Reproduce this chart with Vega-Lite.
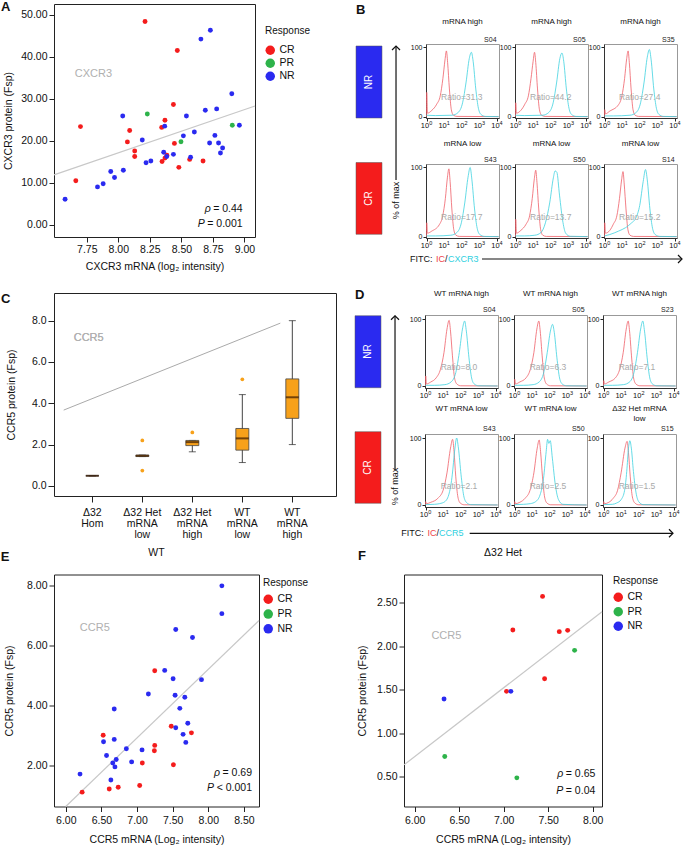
{
"$schema":"https://vega.github.io/schema/vega-lite/v6.json",
"background":"white",
"padding":0,
"config":{"font":"Liberation Sans","view":{"stroke":"#222","strokeWidth":1},
"axis":{"grid":false,"domain":false,"tickColor":"#222","labelColor":"#111","titleColor":"#111","labelFontSize":10.5,"titleFontSize":10.5,"titleFontWeight":"normal","tickSize":5,"labelPadding":2,"labelFlush":false,"labelOverlap":false},
"title":{"fontWeight":"normal","color":"#111","baseline":"top"},
"legend":{"orient":"none","padding":0,"symbolType":"circle","symbolSize":90,"symbolStrokeWidth":0,"symbolOpacity":1,"labelFontSize":10.5,"titleFontSize":10,"titleFontWeight":"normal","labelOffset":4,"labelColor":"#111","titleColor":"#111"}},
"datasets":{
"cx":[{"m":8.212,"v":48.4,"r":"CR"},{"m":8.468,"v":41.5,"r":"CR"},{"m":8.437,"v":28.65,"r":"CR"},{"m":7.70,"v":23.4,"r":"CR"},{"m":7.663,"v":10.5,"r":"CR"},{"m":8.09,"v":22.46,"r":"CR"},{"m":8.072,"v":19.76,"r":"CR"},{"m":8.13,"v":17.6,"r":"CR"},{"m":8.13,"v":16.3,"r":"CR"},{"m":8.37,"v":24.9,"r":"CR"},{"m":8.344,"v":23.2,"r":"CR"},{"m":8.445,"v":19.4,"r":"CR"},{"m":8.347,"v":15.1,"r":"CR"},{"m":8.37,"v":15.9,"r":"CR"},{"m":8.385,"v":16.6,"r":"CR"},{"m":8.48,"v":13.7,"r":"CR"},{"m":8.566,"v":15.6,"r":"CR"},{"m":8.672,"v":15.2,"r":"CR"},
{"m":8.23,"v":26.4,"r":"PR"},{"m":8.497,"v":19.8,"r":"PR"},{"m":8.904,"v":23.7,"r":"PR"},
{"m":8.655,"v":44.2,"r":"NR"},{"m":8.73,"v":46.3,"r":"NR"},{"m":8.90,"v":31.2,"r":"NR"},{"m":8.035,"v":25.9,"r":"NR"},{"m":8.54,"v":25.9,"r":"NR"},{"m":8.69,"v":27.3,"r":"NR"},{"m":8.78,"v":27.6,"r":"NR"},{"m":8.96,"v":23.7,"r":"NR"},{"m":8.368,"v":23.5,"r":"NR"},{"m":8.19,"v":20.2,"r":"NR"},{"m":8.516,"v":21.2,"r":"NR"},{"m":8.603,"v":22.1,"r":"NR"},{"m":8.766,"v":21.3,"r":"NR"},{"m":8.724,"v":19.5,"r":"NR"},{"m":8.795,"v":19.5,"r":"NR"},{"m":8.827,"v":18.3,"r":"NR"},{"m":8.81,"v":17.1,"r":"NR"},{"m":8.36,"v":17.3,"r":"NR"},{"m":8.437,"v":16.8,"r":"NR"},{"m":8.384,"v":16.3,"r":"NR"},{"m":8.573,"v":16.1,"r":"NR"},{"m":8.22,"v":14.8,"r":"NR"},{"m":8.258,"v":15.2,"r":"NR"},{"m":8.04,"v":13.0,"r":"NR"},{"m":7.94,"v":12.7,"r":"NR"},{"m":7.97,"v":11.3,"r":"NR"},{"m":7.88,"v":9.8,"r":"NR"},{"m":7.835,"v":9.05,"r":"NR"},{"m":7.578,"v":6.1,"r":"NR"}],
"wt":[{"m":6.23,"v":1.095,"r":"CR"},{"m":6.61,"v":1.2,"r":"CR"},{"m":6.736,"v":1.26,"r":"CR"},{"m":7.037,"v":1.32,"r":"CR"},{"m":6.525,"v":3.0,"r":"CR"},{"m":7.074,"v":2.07,"r":"CR"},{"m":7.248,"v":2.66,"r":"CR"},{"m":7.243,"v":2.48,"r":"CR"},{"m":7.248,"v":5.16,"r":"CR"},{"m":7.48,"v":3.3,"r":"CR"},{"m":7.51,"v":2.01,"r":"CR"},{"m":7.763,"v":3.08,"r":"CR"},
{"m":8.19,"v":8.0,"r":"NR"},{"m":8.19,"v":7.07,"r":"NR"},{"m":7.543,"v":6.54,"r":"NR"},{"m":7.778,"v":6.27,"r":"NR"},{"m":7.904,"v":4.86,"r":"NR"},{"m":7.388,"v":5.17,"r":"NR"},{"m":7.506,"v":4.89,"r":"NR"},{"m":7.159,"v":4.38,"r":"NR"},{"m":7.534,"v":4.34,"r":"NR"},{"m":7.67,"v":4.27,"r":"NR"},{"m":7.6,"v":3.9,"r":"NR"},{"m":6.68,"v":3.88,"r":"NR"},{"m":7.712,"v":3.4,"r":"NR"},{"m":7.543,"v":3.25,"r":"NR"},{"m":7.646,"v":3.03,"r":"NR"},{"m":7.684,"v":2.76,"r":"NR"},{"m":6.53,"v":2.78,"r":"NR"},{"m":6.68,"v":2.86,"r":"NR"},{"m":6.85,"v":2.55,"r":"NR"},{"m":7.07,"v":2.51,"r":"NR"},{"m":6.572,"v":2.32,"r":"NR"},{"m":6.708,"v":2.19,"r":"NR"},{"m":6.66,"v":2.07,"r":"NR"},{"m":6.69,"v":1.94,"r":"NR"},{"m":6.924,"v":2.11,"r":"NR"},{"m":6.2,"v":1.7,"r":"NR"},{"m":6.633,"v":1.5,"r":"NR"}],
"het":[{"m":7.437,"v":2.573,"r":"CR"},{"m":7.103,"v":2.186,"r":"CR"},{"m":7.625,"v":2.167,"r":"CR"},{"m":7.719,"v":2.182,"r":"CR"},{"m":7.46,"v":1.626,"r":"CR"},{"m":7.032,"v":1.48,"r":"CR"},{"m":7.081,"v":1.48,"r":"NR"},{"m":6.33,"v":1.393,"r":"NR"},{"m":7.797,"v":1.952,"r":"PR"},{"m":6.338,"v":0.73,"r":"PR"},{"m":7.148,"v":0.485,"r":"PR"}],
"fits":[{"panel":"A","m":7.49,"v":11.9},{"panel":"A","m":9.084,"v":28.3},{"panel":"C","m":-0.566,"v":3.67},{"panel":"C","m":3.766,"v":7.88},{"panel":"E","m":6.0,"v":0.615},{"panel":"E","m":8.711,"v":6.84},{"panel":"F","m":5.88,"v":0.634},{"panel":"F","m":8.105,"v":2.397}],
"box":[{"g":"Δ32|Hom","min":0.49,"q1":0.49,"med":0.49,"q3":0.49,"max":0.49},{"g":"Δ32 Het|mRNA|low","min":1.42,"q1":1.42,"med":1.46,"q3":1.49,"max":1.49},{"g":"Δ32 Het|mRNA|high","min":1.65,"q1":1.95,"med":2.12,"q3":2.2,"max":2.2},{"g":"WT|mRNA|low","min":1.13,"q1":1.73,"med":2.3,"q3":2.78,"max":4.42},{"g":"WT|mRNA|high","min":2.0,"q1":3.27,"med":4.29,"q3":5.18,"max":8.0}],
"out":[{"g":"Δ32 Het|mRNA|low","v":2.2},{"g":"Δ32 Het|mRNA|low","v":0.74},{"g":"Δ32 Het|mRNA|high","v":2.59},{"g":"WT|mRNA|low","v":5.16}],
"side":[{"grp":"NR"},{"grp":"CR"}],
"xt":[{"t":0,"e":"0"},{"t":1,"e":"1"},{"t":2,"e":"2"},{"t":3,"e":"3"},{"t":4,"e":"4"}],
"panels":[{"p":"B1","sample":"S04","ratio":"Ratio=31.3"},{"p":"B2","sample":"S05","ratio":"Ratio=44.2"},{"p":"B3","sample":"S35","ratio":"Ratio=27.4"},{"p":"B4","sample":"S43","ratio":"Ratio=17.7"},{"p":"B5","sample":"S50","ratio":"Ratio=13.7"},{"p":"B6","sample":"S14","ratio":"Ratio=15.2"},{"p":"D1","sample":"S04","ratio":"Ratio=8.0"},{"p":"D2","sample":"S05","ratio":"Ratio=6.3"},{"p":"D3","sample":"S23","ratio":"Ratio=7.1"},{"p":"D4","sample":"S43","ratio":"Ratio=2.1"},{"p":"D5","sample":"S50","ratio":"Ratio=2.5"},{"p":"D6","sample":"S15","ratio":"Ratio=1.5"}],
"hist":[
{"p":"B1","s":"IC","x":0,"y":0},{"p":"B1","s":"IC","x":0.01,"y":35},{"p":"B1","s":"IC","x":0.05,"y":5},{"p":"B1","s":"IC","x":0.3,"y":9},{"p":"B1","s":"IC","x":0.58,"y":18},{"p":"B1","s":"IC","x":0.78,"y":30},{"p":"B1","s":"IC","x":0.93,"y":55},{"p":"B1","s":"IC","x":1.05,"y":82},{"p":"B1","s":"IC","x":1.13,"y":95},{"p":"B1","s":"IC","x":1.2,"y":78},{"p":"B1","s":"IC","x":1.3,"y":40},{"p":"B1","s":"IC","x":1.41,"y":10},{"p":"B1","s":"IC","x":1.53,"y":2},{"p":"B1","s":"IC","x":1.73,"y":0.3},{"p":"B1","s":"IC","x":4.1,"y":0},
{"p":"B1","s":"Ab","x":0,"y":2},{"p":"B1","s":"Ab","x":0.5,"y":1.5},{"p":"B1","s":"Ab","x":1.45,"y":2},{"p":"B1","s":"Ab","x":1.8,"y":6},{"p":"B1","s":"Ab","x":2.05,"y":20},{"p":"B1","s":"Ab","x":2.25,"y":50},{"p":"B1","s":"Ab","x":2.43,"y":84},{"p":"B1","s":"Ab","x":2.55,"y":93},{"p":"B1","s":"Ab","x":2.65,"y":80},{"p":"B1","s":"Ab","x":2.8,"y":40},{"p":"B1","s":"Ab","x":2.95,"y":12},{"p":"B1","s":"Ab","x":3.1,"y":3},{"p":"B1","s":"Ab","x":3.35,"y":0.3},{"p":"B1","s":"Ab","x":4.1,"y":0},
{"p":"B2","s":"IC","x":0,"y":0},{"p":"B2","s":"IC","x":0.01,"y":20},{"p":"B2","s":"IC","x":0.05,"y":5},{"p":"B2","s":"IC","x":0.3,"y":9},{"p":"B2","s":"IC","x":0.53,"y":18},{"p":"B2","s":"IC","x":0.73,"y":30},{"p":"B2","s":"IC","x":0.88,"y":55},{"p":"B2","s":"IC","x":1.0,"y":80},{"p":"B2","s":"IC","x":1.08,"y":93},{"p":"B2","s":"IC","x":1.15,"y":78},{"p":"B2","s":"IC","x":1.25,"y":40},{"p":"B2","s":"IC","x":1.36,"y":10},{"p":"B2","s":"IC","x":1.48,"y":2},{"p":"B2","s":"IC","x":1.68,"y":0.3},{"p":"B2","s":"IC","x":4.1,"y":0},
{"p":"B2","s":"Ab","x":0,"y":2},{"p":"B2","s":"Ab","x":0.5,"y":1.5},{"p":"B2","s":"Ab","x":1.54,"y":2},{"p":"B2","s":"Ab","x":1.89,"y":6},{"p":"B2","s":"Ab","x":2.14,"y":20},{"p":"B2","s":"Ab","x":2.34,"y":50},{"p":"B2","s":"Ab","x":2.52,"y":84},{"p":"B2","s":"Ab","x":2.64,"y":92},{"p":"B2","s":"Ab","x":2.74,"y":80},{"p":"B2","s":"Ab","x":2.89,"y":40},{"p":"B2","s":"Ab","x":3.04,"y":12},{"p":"B2","s":"Ab","x":3.19,"y":3},{"p":"B2","s":"Ab","x":3.44,"y":0.3},{"p":"B2","s":"Ab","x":4.1,"y":0},
{"p":"B3","s":"IC","x":0,"y":0},{"p":"B3","s":"IC","x":0.01,"y":10},{"p":"B3","s":"IC","x":0.05,"y":4},{"p":"B3","s":"IC","x":0.3,"y":8},{"p":"B3","s":"IC","x":0.79,"y":17},{"p":"B3","s":"IC","x":0.99,"y":30},{"p":"B3","s":"IC","x":1.14,"y":55},{"p":"B3","s":"IC","x":1.26,"y":84},{"p":"B3","s":"IC","x":1.34,"y":95},{"p":"B3","s":"IC","x":1.41,"y":78},{"p":"B3","s":"IC","x":1.51,"y":40},{"p":"B3","s":"IC","x":1.62,"y":10},{"p":"B3","s":"IC","x":1.74,"y":2},{"p":"B3","s":"IC","x":1.94,"y":0.3},{"p":"B3","s":"IC","x":4.1,"y":0},
{"p":"B3","s":"Ab","x":0,"y":1},{"p":"B3","s":"Ab","x":0.5,"y":1},{"p":"B3","s":"Ab","x":1.45,"y":2},{"p":"B3","s":"Ab","x":1.8,"y":6},{"p":"B3","s":"Ab","x":2.05,"y":20},{"p":"B3","s":"Ab","x":2.25,"y":50},{"p":"B3","s":"Ab","x":2.43,"y":86},{"p":"B3","s":"Ab","x":2.55,"y":97},{"p":"B3","s":"Ab","x":2.65,"y":82},{"p":"B3","s":"Ab","x":2.8,"y":40},{"p":"B3","s":"Ab","x":2.95,"y":12},{"p":"B3","s":"Ab","x":3.1,"y":3},{"p":"B3","s":"Ab","x":3.35,"y":0.3},{"p":"B3","s":"Ab","x":4.1,"y":0},
{"p":"B4","s":"IC","x":0,"y":0},{"p":"B4","s":"IC","x":0.01,"y":20},{"p":"B4","s":"IC","x":0.05,"y":5},{"p":"B4","s":"IC","x":0.3,"y":8},{"p":"B4","s":"IC","x":0.72,"y":17},{"p":"B4","s":"IC","x":0.92,"y":30},{"p":"B4","s":"IC","x":1.07,"y":55},{"p":"B4","s":"IC","x":1.19,"y":86},{"p":"B4","s":"IC","x":1.27,"y":98},{"p":"B4","s":"IC","x":1.34,"y":80},{"p":"B4","s":"IC","x":1.44,"y":40},{"p":"B4","s":"IC","x":1.55,"y":10},{"p":"B4","s":"IC","x":1.67,"y":2},{"p":"B4","s":"IC","x":1.87,"y":0.3},{"p":"B4","s":"IC","x":4.1,"y":0},
{"p":"B4","s":"Ab","x":0,"y":1},{"p":"B4","s":"Ab","x":0.5,"y":1},{"p":"B4","s":"Ab","x":1.38,"y":2},{"p":"B4","s":"Ab","x":1.73,"y":6},{"p":"B4","s":"Ab","x":1.98,"y":20},{"p":"B4","s":"Ab","x":2.18,"y":50},{"p":"B4","s":"Ab","x":2.36,"y":86},{"p":"B4","s":"Ab","x":2.48,"y":100},{"p":"B4","s":"Ab","x":2.58,"y":82},{"p":"B4","s":"Ab","x":2.73,"y":40},{"p":"B4","s":"Ab","x":2.88,"y":12},{"p":"B4","s":"Ab","x":3.03,"y":3},{"p":"B4","s":"Ab","x":3.28,"y":0.3},{"p":"B4","s":"Ab","x":4.1,"y":0},
{"p":"B5","s":"IC","x":0,"y":0},{"p":"B5","s":"IC","x":0.01,"y":25},{"p":"B5","s":"IC","x":0.05,"y":5},{"p":"B5","s":"IC","x":0.3,"y":9},{"p":"B5","s":"IC","x":0.6,"y":18},{"p":"B5","s":"IC","x":0.8,"y":30},{"p":"B5","s":"IC","x":0.95,"y":55},{"p":"B5","s":"IC","x":1.07,"y":84},{"p":"B5","s":"IC","x":1.15,"y":96},{"p":"B5","s":"IC","x":1.22,"y":78},{"p":"B5","s":"IC","x":1.32,"y":40},{"p":"B5","s":"IC","x":1.43,"y":10},{"p":"B5","s":"IC","x":1.55,"y":2},{"p":"B5","s":"IC","x":1.75,"y":0.3},{"p":"B5","s":"IC","x":4.1,"y":0},
{"p":"B5","s":"Ab","x":0,"y":1},{"p":"B5","s":"Ab","x":0.5,"y":1},{"p":"B5","s":"Ab","x":1.1,"y":2},{"p":"B5","s":"Ab","x":1.45,"y":6},{"p":"B5","s":"Ab","x":1.7,"y":20},{"p":"B5","s":"Ab","x":1.95,"y":50},{"p":"B5","s":"Ab","x":2.15,"y":85},{"p":"B5","s":"Ab","x":2.25,"y":95},{"p":"B5","s":"Ab","x":2.35,"y":93},{"p":"B5","s":"Ab","x":2.5,"y":60},{"p":"B5","s":"Ab","x":2.7,"y":20},{"p":"B5","s":"Ab","x":2.85,"y":5},{"p":"B5","s":"Ab","x":3.1,"y":0.5},{"p":"B5","s":"Ab","x":4.1,"y":0},
{"p":"B6","s":"IC","x":0,"y":0},{"p":"B6","s":"IC","x":0.01,"y":20},{"p":"B6","s":"IC","x":0.05,"y":5},{"p":"B6","s":"IC","x":0.3,"y":9},{"p":"B6","s":"IC","x":0.5,"y":18},{"p":"B6","s":"IC","x":0.7,"y":30},{"p":"B6","s":"IC","x":0.85,"y":55},{"p":"B6","s":"IC","x":0.97,"y":82},{"p":"B6","s":"IC","x":1.05,"y":94},{"p":"B6","s":"IC","x":1.12,"y":76},{"p":"B6","s":"IC","x":1.22,"y":40},{"p":"B6","s":"IC","x":1.33,"y":10},{"p":"B6","s":"IC","x":1.45,"y":2},{"p":"B6","s":"IC","x":1.65,"y":0.3},{"p":"B6","s":"IC","x":4.1,"y":0},
{"p":"B6","s":"Ab","x":0,"y":1},{"p":"B6","s":"Ab","x":0.3,"y":3},{"p":"B6","s":"Ab","x":0.8,"y":8},{"p":"B6","s":"Ab","x":1.2,"y":13},{"p":"B6","s":"Ab","x":1.5,"y":19},{"p":"B6","s":"Ab","x":1.8,"y":28},{"p":"B6","s":"Ab","x":2.0,"y":45},{"p":"B6","s":"Ab","x":2.2,"y":80},{"p":"B6","s":"Ab","x":2.33,"y":97},{"p":"B6","s":"Ab","x":2.43,"y":82},{"p":"B6","s":"Ab","x":2.58,"y":40},{"p":"B6","s":"Ab","x":2.73,"y":12},{"p":"B6","s":"Ab","x":2.88,"y":3},{"p":"B6","s":"Ab","x":3.15,"y":0.3},{"p":"B6","s":"Ab","x":4.1,"y":0},
{"p":"D1","s":"IC","x":0,"y":0},{"p":"D1","s":"IC","x":0.01,"y":15},{"p":"D1","s":"IC","x":0.05,"y":3},{"p":"D1","s":"IC","x":0.3,"y":6},{"p":"D1","s":"IC","x":0.6,"y":12},{"p":"D1","s":"IC","x":0.85,"y":25},{"p":"D1","s":"IC","x":1.05,"y":50},{"p":"D1","s":"IC","x":1.22,"y":85},{"p":"D1","s":"IC","x":1.34,"y":98},{"p":"D1","s":"IC","x":1.42,"y":82},{"p":"D1","s":"IC","x":1.53,"y":45},{"p":"D1","s":"IC","x":1.65,"y":12},{"p":"D1","s":"IC","x":1.78,"y":3},{"p":"D1","s":"IC","x":2.0,"y":0.3},{"p":"D1","s":"IC","x":4.1,"y":0},
{"p":"D1","s":"Ab","x":0,"y":1},{"p":"D1","s":"Ab","x":0.5,"y":1},{"p":"D1","s":"Ab","x":1.1,"y":2},{"p":"D1","s":"Ab","x":1.45,"y":6},{"p":"D1","s":"Ab","x":1.72,"y":20},{"p":"D1","s":"Ab","x":1.92,"y":50},{"p":"D1","s":"Ab","x":2.1,"y":85},{"p":"D1","s":"Ab","x":2.22,"y":97},{"p":"D1","s":"Ab","x":2.32,"y":82},{"p":"D1","s":"Ab","x":2.47,"y":42},{"p":"D1","s":"Ab","x":2.62,"y":12},{"p":"D1","s":"Ab","x":2.77,"y":3},{"p":"D1","s":"Ab","x":3.02,"y":0.3},{"p":"D1","s":"Ab","x":4.1,"y":0},
{"p":"D2","s":"IC","x":0,"y":0},{"p":"D2","s":"IC","x":0.01,"y":10},{"p":"D2","s":"IC","x":0.05,"y":3},{"p":"D2","s":"IC","x":0.3,"y":6},{"p":"D2","s":"IC","x":0.65,"y":12},{"p":"D2","s":"IC","x":0.9,"y":25},{"p":"D2","s":"IC","x":1.1,"y":50},{"p":"D2","s":"IC","x":1.27,"y":85},{"p":"D2","s":"IC","x":1.38,"y":97},{"p":"D2","s":"IC","x":1.46,"y":82},{"p":"D2","s":"IC","x":1.57,"y":45},{"p":"D2","s":"IC","x":1.69,"y":12},{"p":"D2","s":"IC","x":1.82,"y":3},{"p":"D2","s":"IC","x":2.04,"y":0.3},{"p":"D2","s":"IC","x":4.1,"y":0},
{"p":"D2","s":"Ab","x":0,"y":1},{"p":"D2","s":"Ab","x":0.5,"y":1},{"p":"D2","s":"Ab","x":1.06,"y":2},{"p":"D2","s":"Ab","x":1.4,"y":6},{"p":"D2","s":"Ab","x":1.66,"y":20},{"p":"D2","s":"Ab","x":1.86,"y":50},{"p":"D2","s":"Ab","x":2.04,"y":82},{"p":"D2","s":"Ab","x":2.16,"y":92},{"p":"D2","s":"Ab","x":2.26,"y":80},{"p":"D2","s":"Ab","x":2.41,"y":42},{"p":"D2","s":"Ab","x":2.56,"y":12},{"p":"D2","s":"Ab","x":2.71,"y":3},{"p":"D2","s":"Ab","x":2.96,"y":0.3},{"p":"D2","s":"Ab","x":4.1,"y":0},
{"p":"D3","s":"IC","x":0,"y":0},{"p":"D3","s":"IC","x":0.01,"y":8},{"p":"D3","s":"IC","x":0.05,"y":3},{"p":"D3","s":"IC","x":0.3,"y":6},{"p":"D3","s":"IC","x":0.67,"y":12},{"p":"D3","s":"IC","x":0.92,"y":25},{"p":"D3","s":"IC","x":1.12,"y":50},{"p":"D3","s":"IC","x":1.29,"y":85},{"p":"D3","s":"IC","x":1.4,"y":97},{"p":"D3","s":"IC","x":1.48,"y":82},{"p":"D3","s":"IC","x":1.59,"y":45},{"p":"D3","s":"IC","x":1.71,"y":12},{"p":"D3","s":"IC","x":1.84,"y":3},{"p":"D3","s":"IC","x":2.06,"y":0.3},{"p":"D3","s":"IC","x":4.1,"y":0},
{"p":"D3","s":"Ab","x":0,"y":1},{"p":"D3","s":"Ab","x":0.5,"y":1},{"p":"D3","s":"Ab","x":1.13,"y":2},{"p":"D3","s":"Ab","x":1.48,"y":6},{"p":"D3","s":"Ab","x":1.73,"y":20},{"p":"D3","s":"Ab","x":1.93,"y":50},{"p":"D3","s":"Ab","x":2.11,"y":85},{"p":"D3","s":"Ab","x":2.23,"y":97},{"p":"D3","s":"Ab","x":2.33,"y":82},{"p":"D3","s":"Ab","x":2.48,"y":42},{"p":"D3","s":"Ab","x":2.63,"y":12},{"p":"D3","s":"Ab","x":2.78,"y":3},{"p":"D3","s":"Ab","x":3.03,"y":0.3},{"p":"D3","s":"Ab","x":4.1,"y":0},
{"p":"D4","s":"IC","x":0,"y":0},{"p":"D4","s":"IC","x":0.01,"y":5},{"p":"D4","s":"IC","x":0.05,"y":2},{"p":"D4","s":"IC","x":0.3,"y":4},{"p":"D4","s":"IC","x":0.7,"y":10},{"p":"D4","s":"IC","x":1.0,"y":22},{"p":"D4","s":"IC","x":1.22,"y":48},{"p":"D4","s":"IC","x":1.42,"y":85},{"p":"D4","s":"IC","x":1.54,"y":98},{"p":"D4","s":"IC","x":1.62,"y":80},{"p":"D4","s":"IC","x":1.72,"y":42},{"p":"D4","s":"IC","x":1.84,"y":12},{"p":"D4","s":"IC","x":1.97,"y":3},{"p":"D4","s":"IC","x":2.2,"y":0.3},{"p":"D4","s":"IC","x":4.1,"y":0},
{"p":"D4","s":"Ab","x":0,"y":0.5},{"p":"D4","s":"Ab","x":0.5,"y":1},{"p":"D4","s":"Ab","x":0.8,"y":2},{"p":"D4","s":"Ab","x":1.1,"y":5},{"p":"D4","s":"Ab","x":1.35,"y":18},{"p":"D4","s":"Ab","x":1.52,"y":45},{"p":"D4","s":"Ab","x":1.66,"y":82},{"p":"D4","s":"Ab","x":1.77,"y":100},{"p":"D4","s":"Ab","x":1.87,"y":85},{"p":"D4","s":"Ab","x":2.02,"y":45},{"p":"D4","s":"Ab","x":2.17,"y":14},{"p":"D4","s":"Ab","x":2.32,"y":4},{"p":"D4","s":"Ab","x":2.57,"y":0.5},{"p":"D4","s":"Ab","x":4.1,"y":0},
{"p":"D5","s":"IC","x":0,"y":0},{"p":"D5","s":"IC","x":0.01,"y":5},{"p":"D5","s":"IC","x":0.05,"y":2},{"p":"D5","s":"IC","x":0.3,"y":4},{"p":"D5","s":"IC","x":0.6,"y":10},{"p":"D5","s":"IC","x":0.88,"y":22},{"p":"D5","s":"IC","x":1.1,"y":48},{"p":"D5","s":"IC","x":1.29,"y":85},{"p":"D5","s":"IC","x":1.4,"y":97},{"p":"D5","s":"IC","x":1.48,"y":80},{"p":"D5","s":"IC","x":1.59,"y":42},{"p":"D5","s":"IC","x":1.71,"y":12},{"p":"D5","s":"IC","x":1.84,"y":3},{"p":"D5","s":"IC","x":2.06,"y":0.3},{"p":"D5","s":"IC","x":4.1,"y":0},
{"p":"D5","s":"Ab","x":0,"y":0.5},{"p":"D5","s":"Ab","x":0.5,"y":1},{"p":"D5","s":"Ab","x":0.9,"y":2},{"p":"D5","s":"Ab","x":1.2,"y":5},{"p":"D5","s":"Ab","x":1.45,"y":15},{"p":"D5","s":"Ab","x":1.65,"y":40},{"p":"D5","s":"Ab","x":1.8,"y":80},{"p":"D5","s":"Ab","x":1.88,"y":98},{"p":"D5","s":"Ab","x":1.95,"y":92},{"p":"D5","s":"Ab","x":2.03,"y":96},{"p":"D5","s":"Ab","x":2.15,"y":70},{"p":"D5","s":"Ab","x":2.32,"y":30},{"p":"D5","s":"Ab","x":2.5,"y":8},{"p":"D5","s":"Ab","x":2.75,"y":1},{"p":"D5","s":"Ab","x":4.1,"y":0},
{"p":"D6","s":"IC","x":0,"y":0},{"p":"D6","s":"IC","x":0.01,"y":5},{"p":"D6","s":"IC","x":0.05,"y":2},{"p":"D6","s":"IC","x":0.3,"y":4},{"p":"D6","s":"IC","x":0.55,"y":10},{"p":"D6","s":"IC","x":0.8,"y":22},{"p":"D6","s":"IC","x":1.0,"y":48},{"p":"D6","s":"IC","x":1.22,"y":85},{"p":"D6","s":"IC","x":1.34,"y":95},{"p":"D6","s":"IC","x":1.42,"y":78},{"p":"D6","s":"IC","x":1.52,"y":42},{"p":"D6","s":"IC","x":1.64,"y":12},{"p":"D6","s":"IC","x":1.78,"y":3},{"p":"D6","s":"IC","x":2.0,"y":0.3},{"p":"D6","s":"IC","x":4.1,"y":0},
{"p":"D6","s":"Ab","x":0,"y":0.5},{"p":"D6","s":"Ab","x":0.5,"y":1},{"p":"D6","s":"Ab","x":0.75,"y":3},{"p":"D6","s":"Ab","x":1.0,"y":8},{"p":"D6","s":"Ab","x":1.2,"y":22},{"p":"D6","s":"Ab","x":1.32,"y":50},{"p":"D6","s":"Ab","x":1.42,"y":85},{"p":"D6","s":"Ab","x":1.5,"y":96},{"p":"D6","s":"Ab","x":1.58,"y":85},{"p":"D6","s":"Ab","x":1.7,"y":50},{"p":"D6","s":"Ab","x":1.85,"y":18},{"p":"D6","s":"Ab","x":2.0,"y":5},{"p":"D6","s":"Ab","x":2.25,"y":0.5},{"p":"D6","s":"Ab","x":4.1,"y":0}
]},
"spacing":6.5,
"resolve":{"scale":{"color":"independent","stroke":"independent"},"legend":{"color":"independent"}},
"vconcat":[
{"spacing":16,"resolve":{"scale":{"color":"independent","stroke":"independent"},"legend":{"color":"independent"}},"vconcat":[
 {"spacing":43,"resolve":{"scale":{"color":"independent","stroke":"independent"},"legend":{"color":"independent"}},"hconcat":[
  {"width":201,"height":233,
   "title":{"text":"A","anchor":"start","frame":"group","dx":-53,"offset":-10,"fontSize":13,"fontWeight":"bold"},
   "layer":[
    {"data":{"name":"fits"},"transform":[{"filter":"datum.panel=='A'"}],"mark":{"type":"line","color":"#c8c8c8","strokeWidth":1.2},
     "encoding":{"x":{"field":"m","type":"quantitative","scale":{"domain":[7.49,9.084],"nice":false,"zero":false},"axis":{"values":[7.75,8,8.25,8.5,8.75,9],"format":".2f","title":"CXCR3 mRNA (log₂ intensity)","titlePadding":7}},
      "y":{"field":"v","type":"quantitative","scale":{"domain":[-2.86,52.55],"nice":false,"zero":false},"axis":{"values":[0,10,20,30,40,50],"format":".2f","title":"CXCR3 protein (Fsp)","titlePadding":7}}}},
    {"data":{"name":"cx"},"mark":{"type":"circle","size":24,"opacity":1},
     "encoding":{"x":{"field":"m","type":"quantitative"},"y":{"field":"v","type":"quantitative"},
      "color":{"field":"r","type":"nominal","scale":{"domain":["CR","PR","NR"],"range":["#f41c1c","#2db34a","#2a2af0"]},"legend":{"title":"Response","orient":"none","legendX":211,"legendY":22,"titlePadding":9,"rowPadding":2}}}},
    {"data":{"values":[{}]},"layer":[
     {"mark":{"type":"text","align":"left","fontSize":11,"color":"#b0b0b0"},"encoding":{"x":{"datum":7.655},"y":{"datum":35.95},"text":{"value":"CXCR3"}}},
     {"mark":{"type":"text","align":"right","fontSize":10.5,"color":"#111"},"encoding":{"x":{"datum":8.986},"y":{"datum":3.8},"text":{"value":" = 0.44"}}},
     {"mark":{"type":"text","align":"right","fontSize":10.5,"fontStyle":"italic","color":"#111","dx":-32},"encoding":{"x":{"datum":8.986},"y":{"datum":3.8},"text":{"value":"ρ"}}},
     {"mark":{"type":"text","align":"right","fontSize":10.5,"color":"#111"},"encoding":{"x":{"datum":8.986},"y":{"datum":0.2},"text":{"value":" = 0.001"}}},
     {"mark":{"type":"text","align":"right","fontSize":10.5,"fontStyle":"italic","color":"#111","dx":-38},"encoding":{"x":{"datum":8.986},"y":{"datum":0.2},"text":{"value":"P"}}}
    ]}
   ]},
  {"spacing":0,"resolve":{"scale":{"color":"independent","stroke":"independent"},"legend":{"color":"independent"}},"vconcat":[
   {"width":54,"height":1,"view":{"stroke":null},"title":{"text":"B","anchor":"start","frame":"group","offset":-13,"fontSize":13,"fontWeight":"bold"},"data":{"values":[]},"mark":{"type":"point","opacity":0},"encoding":{}},
   {"bounds":"flush","columns":4,"spacing":{"row":46,"column":16},"resolve":{"scale":{"color":"independent","stroke":"independent"},"legend":{"color":"independent"}},"concat":[
   {"width":54,"height":74,"view":{"stroke":null},
    "layer":[
     {"data":{"name":"side"},"transform":[{"filter":"datum.grp=='NR'"}],"layer":[
      {"mark":{"type":"rect","stroke":"#555","strokeWidth":0.5},"encoding":{"x":{"datum":0,"type":"quantitative","scale":{"domain":[0,1],"nice":false,"zero":false},"axis":null},"x2":{"datum":0.481},"y":{"datum":0.973,"type":"quantitative","scale":{"domain":[0,1],"nice":false,"zero":false},"axis":null},"y2":{"datum":0},"color":{"field":"grp","type":"nominal","scale":{"domain":["NR","CR"],"range":["#2a2af0","#f41c1c"]},"legend":null}}},
      {"mark":{"type":"text","angle":270,"color":"white","fontSize":10},"encoding":{"x":{"datum":0.24},"y":{"datum":0.486},"text":{"field":"grp"}}}
     ]},
     {"data":{"values":[{}]},"layer":[
      {"mark":{"type":"rule","color":"#111","strokeWidth":1.2},"encoding":{"x":{"datum":0.741},"y":{"datum":-0.838},"y2":{"datum":0.973}}},
      {"mark":{"type":"point","shape":"M -1 1 L 0 0 L 1 1","filled":false,"stroke":"#111","strokeWidth":1.2,"size":64,"opacity":1},"encoding":{"x":{"datum":0.741},"y":{"datum":0.973}}},
      {"mark":{"type":"text","angle":270,"fontSize":9,"color":"#111"},"encoding":{"x":{"datum":0.741},"y":{"datum":-1.115},"text":{"value":"% of max"}}}
     ]}
    ]},
   {"width":73,"height":74,"view":{"stroke":"#999"},"title":{"text":"mRNA high","fontSize":8,"offset":9.6},"layer":[
    {"data":{"name":"hist"},"transform":[{"filter":"datum.p=='B1'"}],"mark":{"type":"line","strokeWidth":0.8,"interpolate":"monotone"},"encoding":{"x":{"field":"x","type":"quantitative","scale":{"domain":[-0.03,4.12],"nice":false,"zero":false},"axis":{"values":[0,1,2,3,4],"labels":false,"title":null,"domain":true,"domainColor":"#333","tickSize":3}},"y":{"field":"y","type":"quantitative","scale":{"domain":[-2,105],"nice":false,"zero":false},"axis":{"values":[0,20,40,60,80,100],"title":null,"domain":true,"domainColor":"#333","tickSize":3,"labelFontSize":7,"labelPadding":1}},"stroke":{"field":"s","type":"nominal","scale":{"domain":["IC","Ab"],"range":["#ef5f68","#3fd2e0"]},"legend":null}}},
    {"data":{"name":"panels"},"transform":[{"filter":"datum.p=='B1'"}],"layer":[{"mark":{"type":"text","fontSize":8.5,"color":"#a9a9a9"},"encoding":{"x":{"datum":2.0},"y":{"datum":28},"text":{"field":"ratio"}}},{"mark":{"type":"text","fontSize":7,"align":"right","color":"#222"},"encoding":{"x":{"datum":3.98},"y":{"datum":111},"text":{"field":"sample"}}}]},
    {"data":{"name":"xt"},"layer":[{"mark":{"type":"text","fontSize":7.5,"dx":-1.5,"color":"#111"},"encoding":{"x":{"field":"t","type":"quantitative"},"y":{"datum":-13.6},"text":{"value":"10"}}},{"mark":{"type":"text","fontSize":5.5,"align":"left","dx":2.7,"dy":-3,"color":"#111"},"encoding":{"x":{"field":"t","type":"quantitative"},"y":{"datum":-13.6},"text":{"field":"e"}}}]}]},
   {"width":73,"height":74,"view":{"stroke":"#999"},"title":{"text":"mRNA high","fontSize":8,"offset":9.6},"layer":[
    {"data":{"name":"hist"},"transform":[{"filter":"datum.p=='B2'"}],"mark":{"type":"line","strokeWidth":0.8,"interpolate":"monotone"},"encoding":{"x":{"field":"x","type":"quantitative","scale":{"domain":[-0.03,4.12],"nice":false,"zero":false},"axis":{"values":[0,1,2,3,4],"labels":false,"title":null,"domain":true,"domainColor":"#333","tickSize":3}},"y":{"field":"y","type":"quantitative","scale":{"domain":[-2,105],"nice":false,"zero":false},"axis":{"values":[0,20,40,60,80,100],"title":null,"domain":true,"domainColor":"#333","tickSize":3,"labelFontSize":7,"labelPadding":1}},"stroke":{"field":"s","type":"nominal","scale":{"domain":["IC","Ab"],"range":["#ef5f68","#3fd2e0"]},"legend":null}}},
    {"data":{"name":"panels"},"transform":[{"filter":"datum.p=='B2'"}],"layer":[{"mark":{"type":"text","fontSize":8.5,"color":"#a9a9a9"},"encoding":{"x":{"datum":2.0},"y":{"datum":28},"text":{"field":"ratio"}}},{"mark":{"type":"text","fontSize":7,"align":"right","color":"#222"},"encoding":{"x":{"datum":3.98},"y":{"datum":111},"text":{"field":"sample"}}}]},
    {"data":{"name":"xt"},"layer":[{"mark":{"type":"text","fontSize":7.5,"dx":-1.5,"color":"#111"},"encoding":{"x":{"field":"t","type":"quantitative"},"y":{"datum":-13.6},"text":{"value":"10"}}},{"mark":{"type":"text","fontSize":5.5,"align":"left","dx":2.7,"dy":-3,"color":"#111"},"encoding":{"x":{"field":"t","type":"quantitative"},"y":{"datum":-13.6},"text":{"field":"e"}}}]}]},
   {"width":73,"height":74,"view":{"stroke":"#999"},"title":{"text":"mRNA high","fontSize":8,"offset":9.6},"layer":[
    {"data":{"name":"hist"},"transform":[{"filter":"datum.p=='B3'"}],"mark":{"type":"line","strokeWidth":0.8,"interpolate":"monotone"},"encoding":{"x":{"field":"x","type":"quantitative","scale":{"domain":[-0.03,4.12],"nice":false,"zero":false},"axis":{"values":[0,1,2,3,4],"labels":false,"title":null,"domain":true,"domainColor":"#333","tickSize":3}},"y":{"field":"y","type":"quantitative","scale":{"domain":[-2,105],"nice":false,"zero":false},"axis":{"values":[0,20,40,60,80,100],"title":null,"domain":true,"domainColor":"#333","tickSize":3,"labelFontSize":7,"labelPadding":1}},"stroke":{"field":"s","type":"nominal","scale":{"domain":["IC","Ab"],"range":["#ef5f68","#3fd2e0"]},"legend":null}}},
    {"data":{"name":"panels"},"transform":[{"filter":"datum.p=='B3'"}],"layer":[{"mark":{"type":"text","fontSize":8.5,"color":"#a9a9a9"},"encoding":{"x":{"datum":2.0},"y":{"datum":28},"text":{"field":"ratio"}}},{"mark":{"type":"text","fontSize":7,"align":"right","color":"#222"},"encoding":{"x":{"datum":3.98},"y":{"datum":111},"text":{"field":"sample"}}}]},
    {"data":{"name":"xt"},"layer":[{"mark":{"type":"text","fontSize":7.5,"dx":-1.5,"color":"#111"},"encoding":{"x":{"field":"t","type":"quantitative"},"y":{"datum":-13.6},"text":{"value":"10"}}},{"mark":{"type":"text","fontSize":5.5,"align":"left","dx":2.7,"dy":-3,"color":"#111"},"encoding":{"x":{"field":"t","type":"quantitative"},"y":{"datum":-13.6},"text":{"field":"e"}}}]}]},
   {"width":54,"height":74,"view":{"stroke":null},
    "layer":[
     {"data":{"name":"side"},"transform":[{"filter":"datum.grp=='CR'"}],"layer":[
      {"mark":{"type":"rect","stroke":"#555","strokeWidth":0.5},"encoding":{"x":{"datum":0,"type":"quantitative","scale":{"domain":[0,1],"nice":false,"zero":false},"axis":null},"x2":{"datum":0.481},"y":{"datum":1.02,"type":"quantitative","scale":{"domain":[0,1],"nice":false,"zero":false},"axis":null},"y2":{"datum":0.05},"color":{"field":"grp","type":"nominal","scale":{"domain":["NR","CR"],"range":["#2a2af0","#f41c1c"]},"legend":null}}},
      {"mark":{"type":"text","angle":270,"color":"white","fontSize":10},"encoding":{"x":{"datum":0.24},"y":{"datum":0.535},"text":{"field":"grp"}}}
     ]},
     {"data":{"values":[{}]},"layer":[
      {"mark":{"type":"rule","color":"#111","strokeWidth":1.2},"encoding":{"x":{"datum":2.333},"x2":{"datum":6.037},"y":{"datum":-0.284}}},
      {"mark":{"type":"point","shape":"M -1 -1 L 0 0 L -1 1","filled":false,"stroke":"#111","strokeWidth":1.2,"size":64,"opacity":1},"encoding":{"x":{"datum":6.037},"y":{"datum":-0.284}}},
      {"mark":{"type":"text","align":"left","fontSize":9,"color":"#111"},"encoding":{"x":{"datum":1.0},"y":{"datum":-0.284},"text":{"value":"FITC: "}}},
      {"mark":{"type":"text","align":"left","fontSize":9,"color":"#f0424a"},"encoding":{"x":{"datum":1.481},"y":{"datum":-0.284},"text":{"value":"IC"}}},
      {"mark":{"type":"text","align":"left","fontSize":9,"color":"#111"},"encoding":{"x":{"datum":1.648},"y":{"datum":-0.284},"text":{"value":"/"}}},
      {"mark":{"type":"text","align":"left","fontSize":9,"color":"#2fd0e0"},"encoding":{"x":{"datum":1.704},"y":{"datum":-0.284},"text":{"value":"CXCR3"}}}
     ]}
    ]},
   {"width":73,"height":74,"view":{"stroke":"#999"},"title":{"text":"mRNA low","fontSize":8,"offset":7.6},"layer":[
    {"data":{"name":"hist"},"transform":[{"filter":"datum.p=='B4'"}],"mark":{"type":"line","strokeWidth":0.8,"interpolate":"monotone"},"encoding":{"x":{"field":"x","type":"quantitative","scale":{"domain":[-0.03,4.12],"nice":false,"zero":false},"axis":{"values":[0,1,2,3,4],"labels":false,"title":null,"domain":true,"domainColor":"#333","tickSize":3}},"y":{"field":"y","type":"quantitative","scale":{"domain":[-2,105],"nice":false,"zero":false},"axis":{"values":[0,20,40,60,80,100],"title":null,"domain":true,"domainColor":"#333","tickSize":3,"labelFontSize":7,"labelPadding":1}},"stroke":{"field":"s","type":"nominal","scale":{"domain":["IC","Ab"],"range":["#ef5f68","#3fd2e0"]},"legend":null}}},
    {"data":{"name":"panels"},"transform":[{"filter":"datum.p=='B4'"}],"layer":[{"mark":{"type":"text","fontSize":8.5,"color":"#a9a9a9"},"encoding":{"x":{"datum":2.0},"y":{"datum":28},"text":{"field":"ratio"}}},{"mark":{"type":"text","fontSize":7,"align":"right","color":"#222"},"encoding":{"x":{"datum":3.98},"y":{"datum":111},"text":{"field":"sample"}}}]},
    {"data":{"name":"xt"},"layer":[{"mark":{"type":"text","fontSize":7.5,"dx":-1.5,"color":"#111"},"encoding":{"x":{"field":"t","type":"quantitative"},"y":{"datum":-13.6},"text":{"value":"10"}}},{"mark":{"type":"text","fontSize":5.5,"align":"left","dx":2.7,"dy":-3,"color":"#111"},"encoding":{"x":{"field":"t","type":"quantitative"},"y":{"datum":-13.6},"text":{"field":"e"}}}]}]},
   {"width":73,"height":74,"view":{"stroke":"#999"},"title":{"text":"mRNA low","fontSize":8,"offset":7.6},"layer":[
    {"data":{"name":"hist"},"transform":[{"filter":"datum.p=='B5'"}],"mark":{"type":"line","strokeWidth":0.8,"interpolate":"monotone"},"encoding":{"x":{"field":"x","type":"quantitative","scale":{"domain":[-0.03,4.12],"nice":false,"zero":false},"axis":{"values":[0,1,2,3,4],"labels":false,"title":null,"domain":true,"domainColor":"#333","tickSize":3}},"y":{"field":"y","type":"quantitative","scale":{"domain":[-2,105],"nice":false,"zero":false},"axis":{"values":[0,20,40,60,80,100],"title":null,"domain":true,"domainColor":"#333","tickSize":3,"labelFontSize":7,"labelPadding":1}},"stroke":{"field":"s","type":"nominal","scale":{"domain":["IC","Ab"],"range":["#ef5f68","#3fd2e0"]},"legend":null}}},
    {"data":{"name":"panels"},"transform":[{"filter":"datum.p=='B5'"}],"layer":[{"mark":{"type":"text","fontSize":8.5,"color":"#a9a9a9"},"encoding":{"x":{"datum":2.0},"y":{"datum":28},"text":{"field":"ratio"}}},{"mark":{"type":"text","fontSize":7,"align":"right","color":"#222"},"encoding":{"x":{"datum":3.98},"y":{"datum":111},"text":{"field":"sample"}}}]},
    {"data":{"name":"xt"},"layer":[{"mark":{"type":"text","fontSize":7.5,"dx":-1.5,"color":"#111"},"encoding":{"x":{"field":"t","type":"quantitative"},"y":{"datum":-13.6},"text":{"value":"10"}}},{"mark":{"type":"text","fontSize":5.5,"align":"left","dx":2.7,"dy":-3,"color":"#111"},"encoding":{"x":{"field":"t","type":"quantitative"},"y":{"datum":-13.6},"text":{"field":"e"}}}]}]},
   {"width":73,"height":74,"view":{"stroke":"#999"},"title":{"text":"mRNA low","fontSize":8,"offset":7.6},"layer":[
    {"data":{"name":"hist"},"transform":[{"filter":"datum.p=='B6'"}],"mark":{"type":"line","strokeWidth":0.8,"interpolate":"monotone"},"encoding":{"x":{"field":"x","type":"quantitative","scale":{"domain":[-0.03,4.12],"nice":false,"zero":false},"axis":{"values":[0,1,2,3,4],"labels":false,"title":null,"domain":true,"domainColor":"#333","tickSize":3}},"y":{"field":"y","type":"quantitative","scale":{"domain":[-2,105],"nice":false,"zero":false},"axis":{"values":[0,20,40,60,80,100],"title":null,"domain":true,"domainColor":"#333","tickSize":3,"labelFontSize":7,"labelPadding":1}},"stroke":{"field":"s","type":"nominal","scale":{"domain":["IC","Ab"],"range":["#ef5f68","#3fd2e0"]},"legend":null}}},
    {"data":{"name":"panels"},"transform":[{"filter":"datum.p=='B6'"}],"layer":[{"mark":{"type":"text","fontSize":8.5,"color":"#a9a9a9"},"encoding":{"x":{"datum":2.0},"y":{"datum":28},"text":{"field":"ratio"}}},{"mark":{"type":"text","fontSize":7,"align":"right","color":"#222"},"encoding":{"x":{"datum":3.98},"y":{"datum":111},"text":{"field":"sample"}}}]},
    {"data":{"name":"xt"},"layer":[{"mark":{"type":"text","fontSize":7.5,"dx":-1.5,"color":"#111"},"encoding":{"x":{"field":"t","type":"quantitative"},"y":{"datum":-13.6},"text":{"value":"10"}}},{"mark":{"type":"text","fontSize":5.5,"align":"left","dx":2.7,"dy":-3,"color":"#111"},"encoding":{"x":{"field":"t","type":"quantitative"},"y":{"datum":-13.6},"text":{"field":"e"}}}]}]}
  ]}
  ]}
 ]},
 {"spacing":17,"resolve":{"scale":{"color":"independent","stroke":"independent"},"legend":{"color":"independent"}},"hconcat":[
  {"width":282,"height":203,
   "title":{"text":"C","anchor":"start","frame":"group","dx":-53,"offset":-13,"fontSize":13,"fontWeight":"bold"},
   "resolve":{"scale":{"x":"independent"}},
   "layer":[
    {"layer":[
     {"data":{"name":"box"},"mark":{"type":"rule","color":"#444","strokeWidth":1},
      "encoding":{"x":{"field":"g","type":"nominal","sort":null,"scale":{"domain":["Δ32|Hom","Δ32 Het|mRNA|low","Δ32 Het|mRNA|high","WT|mRNA|low","WT|mRNA|high"],"paddingInner":0.7,"paddingOuter":0.67,"align":0.46},"axis":{"title":null,"labelExpr":"split(datum.label,'|')","labelAngle":0,"labelLineHeight":11.3,"tickSize":6,"labelPadding":5,"labelBaseline":"top"}},
       "y":{"field":"min","type":"quantitative","scale":{"domain":[-0.49,9.34],"nice":false,"zero":false},"axis":{"values":[0,2,4,6,8],"format":".1f","title":"CCR5  protein (Fsp)","tickSize":6,"titlePadding":15}},
       "y2":{"field":"max"}}},
     {"data":{"name":"box"},"mark":{"type":"tick","color":"#222","size":7,"thickness":1},"encoding":{"x":{"field":"g","type":"nominal"},"y":{"field":"min","type":"quantitative"}}},
     {"data":{"name":"box"},"mark":{"type":"tick","color":"#222","size":7,"thickness":1},"encoding":{"x":{"field":"g","type":"nominal"},"y":{"field":"max","type":"quantitative"}}},
     {"data":{"name":"box"},"mark":{"type":"bar","size":13,"fill":"#f7a11a","stroke":"#444","strokeWidth":0.8},"encoding":{"x":{"field":"g","type":"nominal"},"y":{"field":"q1","type":"quantitative"},"y2":{"field":"q3"}}},
     {"data":{"name":"box"},"mark":{"type":"tick","color":"#3a1a00","size":13,"thickness":2},"encoding":{"x":{"field":"g","type":"nominal"},"y":{"field":"med","type":"quantitative"}}},
     {"data":{"name":"out"},"mark":{"type":"circle","size":14,"color":"#f7a11a","opacity":1},"encoding":{"x":{"field":"g","type":"nominal"},"y":{"field":"v","type":"quantitative"}}}
    ]},
    {"data":{"name":"fits"},"transform":[{"filter":"datum.panel=='C'"}],"layer":[
     {"mark":{"type":"line","color":"#aaa","strokeWidth":1},"encoding":{"x":{"field":"m","type":"quantitative","scale":{"domain":[-0.76,4.88],"nice":false,"zero":false},"axis":null},"y":{"field":"v","type":"quantitative"}}},
     {"mark":{"type":"text","align":"left","fontSize":11,"color":"#b0b0b0"},"encoding":{"x":{"datum":-0.366},"y":{"datum":7.17},"text":{"value":"CCR5"}}}
    ]}
   ]},
  {"spacing":-13,"resolve":{"scale":{"color":"independent","stroke":"independent"},"legend":{"color":"independent"}},"vconcat":[
   {"width":54,"height":1,"view":{"stroke":null},"title":{"text":"D","anchor":"start","frame":"group","offset":-9,"fontSize":13,"fontWeight":"bold"},"data":{"values":[]},"mark":{"type":"point","opacity":0},"encoding":{}},
   {"bounds":"flush","columns":4,"spacing":{"row":46,"column":16},"resolve":{"scale":{"color":"independent","stroke":"independent"},"legend":{"color":"independent"}},"concat":[
   {"width":54,"height":73,"view":{"stroke":null},
    "layer":[
     {"data":{"name":"side"},"transform":[{"filter":"datum.grp=='NR'"}],"layer":[
      {"mark":{"type":"rect","stroke":"#555","strokeWidth":0.5},"encoding":{"x":{"datum":0,"type":"quantitative","scale":{"domain":[0,1],"nice":false,"zero":false},"axis":null},"x2":{"datum":0.481},"y":{"datum":0.99,"type":"quantitative","scale":{"domain":[0,1],"nice":false,"zero":false},"axis":null},"y2":{"datum":0.004},"color":{"field":"grp","type":"nominal","scale":{"domain":["NR","CR"],"range":["#2a2af0","#f41c1c"]},"legend":null}}},
      {"mark":{"type":"text","angle":270,"color":"white","fontSize":10},"encoding":{"x":{"datum":0.24},"y":{"datum":0.5},"text":{"field":"grp"}}}
     ]},
     {"data":{"values":[{}]},"layer":[
      {"mark":{"type":"rule","color":"#111","strokeWidth":1.2},"encoding":{"x":{"datum":0.741},"y":{"datum":-1.123},"y2":{"datum":0.99}}},
      {"mark":{"type":"point","shape":"M -1 1 L 0 0 L 1 1","filled":false,"stroke":"#111","strokeWidth":1.2,"size":64,"opacity":1},"encoding":{"x":{"datum":0.741},"y":{"datum":0.99}}},
      {"mark":{"type":"text","angle":270,"fontSize":9,"color":"#111"},"encoding":{"x":{"datum":0.741},"y":{"datum":-1.349},"text":{"value":"% of max"}}}
     ]}
    ]},
   {"width":73,"height":73,"view":{"stroke":"#999"},"title":{"text":"WT mRNA high","fontSize":8,"offset":7.5},"layer":[
    {"data":{"name":"hist"},"transform":[{"filter":"datum.p=='D1'"}],"mark":{"type":"line","strokeWidth":0.8,"interpolate":"monotone"},"encoding":{"x":{"field":"x","type":"quantitative","scale":{"domain":[-0.03,4.12],"nice":false,"zero":false},"axis":{"values":[0,1,2,3,4],"labels":false,"title":null,"domain":true,"domainColor":"#333","tickSize":3}},"y":{"field":"y","type":"quantitative","scale":{"domain":[-3,106],"nice":false,"zero":false},"axis":{"values":[0,20,40,60,80,100],"title":null,"domain":true,"domainColor":"#333","tickSize":3,"labelFontSize":7,"labelPadding":1}},"stroke":{"field":"s","type":"nominal","scale":{"domain":["IC","Ab"],"range":["#ef5f68","#3fd2e0"]},"legend":null}}},
    {"data":{"name":"panels"},"transform":[{"filter":"datum.p=='D1'"}],"layer":[{"mark":{"type":"text","fontSize":8.5,"color":"#a9a9a9"},"encoding":{"x":{"datum":1.9},"y":{"datum":28},"text":{"field":"ratio"}}},{"mark":{"type":"text","fontSize":7,"align":"right","color":"#222"},"encoding":{"x":{"datum":3.98},"y":{"datum":113.5},"text":{"field":"sample"}}}]},
    {"data":{"name":"xt"},"layer":[{"mark":{"type":"text","fontSize":7.5,"dx":-1.5,"color":"#111"},"encoding":{"x":{"field":"t","type":"quantitative"},"y":{"datum":-15},"text":{"value":"10"}}},{"mark":{"type":"text","fontSize":5.5,"align":"left","dx":2.7,"dy":-3,"color":"#111"},"encoding":{"x":{"field":"t","type":"quantitative"},"y":{"datum":-15},"text":{"field":"e"}}}]}]},
   {"width":73,"height":73,"view":{"stroke":"#999"},"title":{"text":"WT mRNA high","fontSize":8,"offset":7.5},"layer":[
    {"data":{"name":"hist"},"transform":[{"filter":"datum.p=='D2'"}],"mark":{"type":"line","strokeWidth":0.8,"interpolate":"monotone"},"encoding":{"x":{"field":"x","type":"quantitative","scale":{"domain":[-0.03,4.12],"nice":false,"zero":false},"axis":{"values":[0,1,2,3,4],"labels":false,"title":null,"domain":true,"domainColor":"#333","tickSize":3}},"y":{"field":"y","type":"quantitative","scale":{"domain":[-3,106],"nice":false,"zero":false},"axis":{"values":[0,20,40,60,80,100],"title":null,"domain":true,"domainColor":"#333","tickSize":3,"labelFontSize":7,"labelPadding":1}},"stroke":{"field":"s","type":"nominal","scale":{"domain":["IC","Ab"],"range":["#ef5f68","#3fd2e0"]},"legend":null}}},
    {"data":{"name":"panels"},"transform":[{"filter":"datum.p=='D2'"}],"layer":[{"mark":{"type":"text","fontSize":8.5,"color":"#a9a9a9"},"encoding":{"x":{"datum":1.9},"y":{"datum":28},"text":{"field":"ratio"}}},{"mark":{"type":"text","fontSize":7,"align":"right","color":"#222"},"encoding":{"x":{"datum":3.98},"y":{"datum":113.5},"text":{"field":"sample"}}}]},
    {"data":{"name":"xt"},"layer":[{"mark":{"type":"text","fontSize":7.5,"dx":-1.5,"color":"#111"},"encoding":{"x":{"field":"t","type":"quantitative"},"y":{"datum":-15},"text":{"value":"10"}}},{"mark":{"type":"text","fontSize":5.5,"align":"left","dx":2.7,"dy":-3,"color":"#111"},"encoding":{"x":{"field":"t","type":"quantitative"},"y":{"datum":-15},"text":{"field":"e"}}}]}]},
   {"width":73,"height":73,"view":{"stroke":"#999"},"title":{"text":"WT mRNA high","fontSize":8,"offset":7.5},"layer":[
    {"data":{"name":"hist"},"transform":[{"filter":"datum.p=='D3'"}],"mark":{"type":"line","strokeWidth":0.8,"interpolate":"monotone"},"encoding":{"x":{"field":"x","type":"quantitative","scale":{"domain":[-0.03,4.12],"nice":false,"zero":false},"axis":{"values":[0,1,2,3,4],"labels":false,"title":null,"domain":true,"domainColor":"#333","tickSize":3}},"y":{"field":"y","type":"quantitative","scale":{"domain":[-3,106],"nice":false,"zero":false},"axis":{"values":[0,20,40,60,80,100],"title":null,"domain":true,"domainColor":"#333","tickSize":3,"labelFontSize":7,"labelPadding":1}},"stroke":{"field":"s","type":"nominal","scale":{"domain":["IC","Ab"],"range":["#ef5f68","#3fd2e0"]},"legend":null}}},
    {"data":{"name":"panels"},"transform":[{"filter":"datum.p=='D3'"}],"layer":[{"mark":{"type":"text","fontSize":8.5,"color":"#a9a9a9"},"encoding":{"x":{"datum":1.9},"y":{"datum":28},"text":{"field":"ratio"}}},{"mark":{"type":"text","fontSize":7,"align":"right","color":"#222"},"encoding":{"x":{"datum":3.98},"y":{"datum":113.5},"text":{"field":"sample"}}}]},
    {"data":{"name":"xt"},"layer":[{"mark":{"type":"text","fontSize":7.5,"dx":-1.5,"color":"#111"},"encoding":{"x":{"field":"t","type":"quantitative"},"y":{"datum":-15},"text":{"value":"10"}}},{"mark":{"type":"text","fontSize":5.5,"align":"left","dx":2.7,"dy":-3,"color":"#111"},"encoding":{"x":{"field":"t","type":"quantitative"},"y":{"datum":-15},"text":{"field":"e"}}}]}]},
   {"width":54,"height":73,"view":{"stroke":null},
    "layer":[
     {"data":{"name":"side"},"transform":[{"filter":"datum.grp=='CR'"}],"layer":[
      {"mark":{"type":"rect","stroke":"#555","strokeWidth":0.5},"encoding":{"x":{"datum":0,"type":"quantitative","scale":{"domain":[0,1],"nice":false,"zero":false},"axis":null},"x2":{"datum":0.481},"y":{"datum":1.032,"type":"quantitative","scale":{"domain":[0,1],"nice":false,"zero":false},"axis":null},"y2":{"datum":0.051},"color":{"field":"grp","type":"nominal","scale":{"domain":["NR","CR"],"range":["#2a2af0","#f41c1c"]},"legend":null}}},
      {"mark":{"type":"text","angle":270,"color":"white","fontSize":10},"encoding":{"x":{"datum":0.24},"y":{"datum":0.54},"text":{"field":"grp"}}}
     ]},
     {"data":{"values":[{}]},"layer":[
      {"mark":{"type":"rule","color":"#111","strokeWidth":1.2},"encoding":{"x":{"datum":2.124},"x2":{"datum":5.889},"y":{"datum":-0.36}}},
      {"mark":{"type":"point","shape":"M -1 -1 L 0 0 L -1 1","filled":false,"stroke":"#111","strokeWidth":1.2,"size":64,"opacity":1},"encoding":{"x":{"datum":5.889},"y":{"datum":-0.36}}},
      {"mark":{"type":"text","align":"left","fontSize":9,"color":"#111"},"encoding":{"x":{"datum":0.857},"y":{"datum":-0.36},"text":{"value":"FITC: "}}},
      {"mark":{"type":"text","align":"left","fontSize":9,"color":"#f0424a"},"encoding":{"x":{"datum":1.343},"y":{"datum":-0.36},"text":{"value":"IC"}}},
      {"mark":{"type":"text","align":"left","fontSize":9,"color":"#111"},"encoding":{"x":{"datum":1.509},"y":{"datum":-0.36},"text":{"value":"/"}}},
      {"mark":{"type":"text","align":"left","fontSize":9,"color":"#2fd0e0"},"encoding":{"x":{"datum":1.556},"y":{"datum":-0.36},"text":{"value":"CCR5"}}}
     ]}
    ]},
   {"width":73,"height":73,"view":{"stroke":"#999"},"title":{"text":"WT mRNA low","fontSize":8,"offset":11.5},"layer":[
    {"data":{"name":"hist"},"transform":[{"filter":"datum.p=='D4'"}],"mark":{"type":"line","strokeWidth":0.8,"interpolate":"monotone"},"encoding":{"x":{"field":"x","type":"quantitative","scale":{"domain":[-0.03,4.12],"nice":false,"zero":false},"axis":{"values":[0,1,2,3,4],"labels":false,"title":null,"domain":true,"domainColor":"#333","tickSize":3}},"y":{"field":"y","type":"quantitative","scale":{"domain":[-3,106],"nice":false,"zero":false},"axis":{"values":[0,20,40,60,80,100],"title":null,"domain":true,"domainColor":"#333","tickSize":3,"labelFontSize":7,"labelPadding":1}},"stroke":{"field":"s","type":"nominal","scale":{"domain":["IC","Ab"],"range":["#ef5f68","#3fd2e0"]},"legend":null}}},
    {"data":{"name":"panels"},"transform":[{"filter":"datum.p=='D4'"}],"layer":[{"mark":{"type":"text","fontSize":8.5,"color":"#a9a9a9"},"encoding":{"x":{"datum":1.9},"y":{"datum":28},"text":{"field":"ratio"}}},{"mark":{"type":"text","fontSize":7,"align":"right","color":"#222"},"encoding":{"x":{"datum":3.98},"y":{"datum":113.5},"text":{"field":"sample"}}}]},
    {"data":{"name":"xt"},"layer":[{"mark":{"type":"text","fontSize":7.5,"dx":-1.5,"color":"#111"},"encoding":{"x":{"field":"t","type":"quantitative"},"y":{"datum":-15},"text":{"value":"10"}}},{"mark":{"type":"text","fontSize":5.5,"align":"left","dx":2.7,"dy":-3,"color":"#111"},"encoding":{"x":{"field":"t","type":"quantitative"},"y":{"datum":-15},"text":{"field":"e"}}}]}]},
   {"width":73,"height":73,"view":{"stroke":"#999"},"title":{"text":"WT mRNA low","fontSize":8,"offset":11.5},"layer":[
    {"data":{"name":"hist"},"transform":[{"filter":"datum.p=='D5'"}],"mark":{"type":"line","strokeWidth":0.8,"interpolate":"monotone"},"encoding":{"x":{"field":"x","type":"quantitative","scale":{"domain":[-0.03,4.12],"nice":false,"zero":false},"axis":{"values":[0,1,2,3,4],"labels":false,"title":null,"domain":true,"domainColor":"#333","tickSize":3}},"y":{"field":"y","type":"quantitative","scale":{"domain":[-3,106],"nice":false,"zero":false},"axis":{"values":[0,20,40,60,80,100],"title":null,"domain":true,"domainColor":"#333","tickSize":3,"labelFontSize":7,"labelPadding":1}},"stroke":{"field":"s","type":"nominal","scale":{"domain":["IC","Ab"],"range":["#ef5f68","#3fd2e0"]},"legend":null}}},
    {"data":{"name":"panels"},"transform":[{"filter":"datum.p=='D5'"}],"layer":[{"mark":{"type":"text","fontSize":8.5,"color":"#a9a9a9"},"encoding":{"x":{"datum":1.9},"y":{"datum":28},"text":{"field":"ratio"}}},{"mark":{"type":"text","fontSize":7,"align":"right","color":"#222"},"encoding":{"x":{"datum":3.98},"y":{"datum":113.5},"text":{"field":"sample"}}}]},
    {"data":{"name":"xt"},"layer":[{"mark":{"type":"text","fontSize":7.5,"dx":-1.5,"color":"#111"},"encoding":{"x":{"field":"t","type":"quantitative"},"y":{"datum":-15},"text":{"value":"10"}}},{"mark":{"type":"text","fontSize":5.5,"align":"left","dx":2.7,"dy":-3,"color":"#111"},"encoding":{"x":{"field":"t","type":"quantitative"},"y":{"datum":-15},"text":{"field":"e"}}}]}]},
   {"width":73,"height":73,"view":{"stroke":"#999"},"title":{"text":["Δ32 Het mRNA","low"],"fontSize":8,"lineHeight":10,"offset":1.5},"layer":[
    {"data":{"name":"hist"},"transform":[{"filter":"datum.p=='D6'"}],"mark":{"type":"line","strokeWidth":0.8,"interpolate":"monotone"},"encoding":{"x":{"field":"x","type":"quantitative","scale":{"domain":[-0.03,4.12],"nice":false,"zero":false},"axis":{"values":[0,1,2,3,4],"labels":false,"title":null,"domain":true,"domainColor":"#333","tickSize":3}},"y":{"field":"y","type":"quantitative","scale":{"domain":[-3,106],"nice":false,"zero":false},"axis":{"values":[0,20,40,60,80,100],"title":null,"domain":true,"domainColor":"#333","tickSize":3,"labelFontSize":7,"labelPadding":1}},"stroke":{"field":"s","type":"nominal","scale":{"domain":["IC","Ab"],"range":["#ef5f68","#3fd2e0"]},"legend":null}}},
    {"data":{"name":"panels"},"transform":[{"filter":"datum.p=='D6'"}],"layer":[{"mark":{"type":"text","fontSize":8.5,"color":"#a9a9a9"},"encoding":{"x":{"datum":1.9},"y":{"datum":28},"text":{"field":"ratio"}}},{"mark":{"type":"text","fontSize":7,"align":"right","color":"#222"},"encoding":{"x":{"datum":3.98},"y":{"datum":113.5},"text":{"field":"sample"}}}]},
    {"data":{"name":"xt"},"layer":[{"mark":{"type":"text","fontSize":7.5,"dx":-1.5,"color":"#111"},"encoding":{"x":{"field":"t","type":"quantitative"},"y":{"datum":-15},"text":{"value":"10"}}},{"mark":{"type":"text","fontSize":5.5,"align":"left","dx":2.7,"dy":-3,"color":"#111"},"encoding":{"x":{"field":"t","type":"quantitative"},"y":{"datum":-15},"text":{"field":"e"}}}]}]}
  ]}
  ]}
 ]}
]},
{"bounds":"flush","spacing":145,"resolve":{"scale":{"color":"independent","stroke":"independent"},"legend":{"color":"independent"}},"hconcat":[
  {"width":205,"height":232,
   "title":{"text":"WT","anchor":"middle","fontSize":10.5,"offset":-7.5},
   "layer":[
    {"data":{"name":"fits"},"transform":[{"filter":"datum.panel=='E'"}],"mark":{"type":"line","color":"#c8c8c8","strokeWidth":1.2},
     "encoding":{"x":{"field":"m","type":"quantitative","scale":{"domain":[5.835,8.711],"nice":false,"zero":false},"axis":{"values":[6,6.5,7,7.5,8,8.5],"format":".2f","title":"CCR5 mRNA (Log₂ intensity)","labelPadding":4,"titlePadding":8}},
      "y":{"field":"v","type":"quantitative","scale":{"domain":[0.615,8.38],"nice":false,"zero":false},"axis":{"values":[2,4,6,8],"format":".2f","title":"CCR5  protein (Fsp)","titlePadding":12}}}},
    {"data":{"name":"wt"},"mark":{"type":"circle","size":24,"opacity":1},
     "encoding":{"x":{"field":"m","type":"quantitative"},"y":{"field":"v","type":"quantitative"},
      "color":{"field":"r","type":"nominal","scale":{"domain":["CR","PR","NR"],"range":["#f41c1c","#2db34a","#2a2af0"]},"legend":{"title":"Response","orient":"none","legendX":209,"legendY":3,"titlePadding":6.5,"rowPadding":3.8}}}},
    {"data":{"values":[{}]},"layer":[
     {"mark":{"type":"text","align":"left","baseline":"top","fontSize":13,"fontWeight":"bold","color":"#111"},"encoding":{"x":{"datum":5.089},"y":{"datum":9.15},"text":{"value":"E"}}},
     {"mark":{"type":"text","align":"left","fontSize":11,"color":"#b0b0b0"},"encoding":{"x":{"datum":6.197},"y":{"datum":6.58},"text":{"value":"CCR5"}}},
     {"mark":{"type":"text","align":"right","fontSize":10.5,"color":"#111"},"encoding":{"x":{"datum":8.613},"y":{"datum":1.72},"text":{"value":" = 0.69"}}},
     {"mark":{"type":"text","align":"right","fontSize":10.5,"fontStyle":"italic","color":"#111","dx":-32},"encoding":{"x":{"datum":8.613},"y":{"datum":1.72},"text":{"value":"ρ"}}},
     {"mark":{"type":"text","align":"right","fontSize":10.5,"color":"#111"},"encoding":{"x":{"datum":8.613},"y":{"datum":1.25},"text":{"value":" < 0.001"}}},
     {"mark":{"type":"text","align":"right","fontSize":10.5,"fontStyle":"italic","color":"#111","dx":-38},"encoding":{"x":{"datum":8.613},"y":{"datum":1.25},"text":{"value":"P"}}}
    ]}
   ]},
  {"width":198,"height":232,
   "title":{"text":"Δ32 Het","anchor":"middle","fontSize":10.5,"offset":-8.2},
   "layer":[
    {"data":{"name":"fits"},"transform":[{"filter":"datum.panel=='F'"}],"mark":{"type":"line","color":"#c8c8c8","strokeWidth":1.2},
     "encoding":{"x":{"field":"m","type":"quantitative","scale":{"domain":[5.88,8.105],"nice":false,"zero":false},"axis":{"values":[6,6.5,7,7.5,8],"format":".2f","title":"CCR5 mRNA (Log₂ intensity)","labelPadding":4,"titlePadding":8}},
      "y":{"field":"v","type":"quantitative","scale":{"domain":[0.155,2.825],"nice":false,"zero":false},"axis":{"values":[0.5,1,1.5,2,2.5],"format":".2f","title":"CCR5  protein (Fsp)","titlePadding":9}}}},
    {"data":{"name":"het"},"mark":{"type":"circle","size":24,"opacity":1},
     "encoding":{"x":{"field":"m","type":"quantitative"},"y":{"field":"v","type":"quantitative"},
      "color":{"field":"r","type":"nominal","scale":{"domain":["CR","PR","NR"],"range":["#f41c1c","#2db34a","#2a2af0"]},"legend":{"title":"Response","orient":"none","legendX":209,"legendY":1.5,"titlePadding":6,"rowPadding":3.5}}}},
    {"data":{"values":[{}]},"layer":[
     {"mark":{"type":"text","align":"left","baseline":"top","fontSize":13,"fontWeight":"bold","color":"#111"},"encoding":{"x":{"datum":5.362},"y":{"datum":3.103},"text":{"value":"F"}}},
     {"mark":{"type":"text","align":"left","fontSize":11,"color":"#b0b0b0"},"encoding":{"x":{"datum":6.188},"y":{"datum":2.12},"text":{"value":"CCR5"}}},
     {"mark":{"type":"text","align":"right","fontSize":10.5,"color":"#111"},"encoding":{"x":{"datum":8.03},"y":{"datum":0.53},"text":{"value":" = 0.65"}}},
     {"mark":{"type":"text","align":"right","fontSize":10.5,"fontStyle":"italic","color":"#111","dx":-32},"encoding":{"x":{"datum":8.03},"y":{"datum":0.53},"text":{"value":"ρ"}}},
     {"mark":{"type":"text","align":"right","fontSize":10.5,"color":"#111"},"encoding":{"x":{"datum":8.03},"y":{"datum":0.336},"text":{"value":" = 0.04"}}},
     {"mark":{"type":"text","align":"right","fontSize":10.5,"fontStyle":"italic","color":"#111","dx":-32},"encoding":{"x":{"datum":8.03},"y":{"datum":0.336},"text":{"value":"P"}}}
    ]}
   ]}
]}
]
}
